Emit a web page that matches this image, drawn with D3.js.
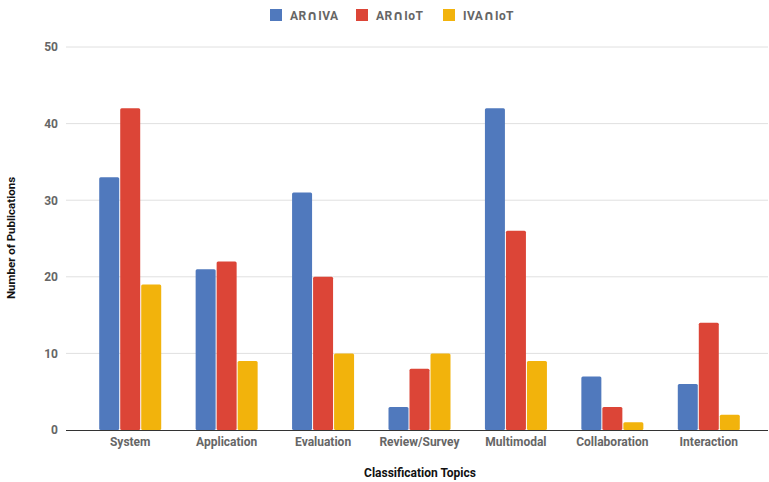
<!DOCTYPE html>
<html><head><meta charset="utf-8">
<script src="https://cdn.jsdelivr.net/npm/d3@7/dist/d3.min.js"></script>
<style>body{margin:0;background:#fff}svg{display:block;font-family:Roboto,"Noto Sans",sans-serif}</style>
</head><body>
<script>
const categories = ["System","Application","Evaluation","Review/Survey","Multimodal","Collaboration","Interaction"];
const seriesNames = ["AR∩IVA","AR∩IoT","IVA∩IoT"];
const arIva = [33,21,31,3,42,7,6];
const arIot = [42,22,20,8,26,3,14];
const ivaIot = [19,9,10,10,9,1,2];
const yTicks = [0,10,20,30,40,50];
const colors = ["#5079bd","#dc4537","#f2b30c"];

const W=769,H=482;
const svg=d3.select("body").append("svg").attr("width",W).attr("height",H);
const x=d3.scaleBand().domain(categories).range([82,757]).paddingInner(0).paddingOuter(0);
const y=d3.scaleLinear().domain([0,50]).range([430,47]);
const series=[arIva,arIot,ivaIot];

svg.append("g").selectAll("line").data(yTicks.filter(d=>d>0)).join("line")
  .attr("x1",66).attr("x2",768).attr("y1",d=>y(d)).attr("y2",d=>y(d))
  .attr("stroke","#e0e0e0").attr("stroke-width",1);

const yAxis=svg.append("g").attr("transform","translate(66,0)")
  .call(d3.axisLeft(y).tickValues(yTicks).tickSize(0).tickPadding(8).tickFormat(d3.format("d")));
yAxis.select(".domain").remove();
yAxis.selectAll("text").attr("fill","#666").attr("font-size",12).attr("font-weight","bold").attr("font-family","Roboto,sans-serif");

const barW=20, gap=1, groupW=barW*3+gap*2;
const g=svg.append("g");
categories.forEach((c,i)=>{
  const cx=x(c)+x.bandwidth()/2;
  series.forEach((s,j)=>{
    const v=s[i];
    g.append("rect").attr("x",cx-groupW/2+j*(barW+gap)).attr("y",y(v))
      .attr("width",barW).attr("height",y(0)-y(v)).attr("rx",1.5)
      .attr("fill",colors[j]);
  });
});
svg.append("line").attr("x1",66).attr("x2",768).attr("y1",y(0)+0.5).attr("y2",y(0)+0.5).attr("stroke","#333").attr("stroke-width",1.2);

const xAxis=svg.append("g").attr("transform","translate(0,430)")
  .call(d3.axisBottom(x).tickSize(0).tickPadding(7));
xAxis.select(".domain").remove();
xAxis.selectAll("text").attr("fill","#666").attr("font-size",12).attr("font-weight","bold").attr("font-family","Roboto,sans-serif");

svg.append("text").attr("x",420).attr("y",477).attr("text-anchor","middle")
  .attr("font-size",12).attr("font-weight","bold").attr("fill","#111").text("Classification Topics");
svg.append("text").attr("transform","translate(15,238) rotate(-90)").attr("text-anchor","middle")
  .attr("font-size",11.5).attr("font-weight","bold").attr("fill","#111").text("Number of Publications");

const legX=[270,356,443];
seriesNames.forEach((n,j)=>{
  svg.append("rect").attr("x",legX[j]).attr("y",9).attr("width",12).attr("height",12).attr("fill",colors[j]);
  const t=svg.append("text").attr("x",legX[j]+20).attr("y",19.5).attr("font-size",12).attr("font-weight","bold")
    .attr("fill","#666").attr("letter-spacing",0.4);
  n.split(/(∩)/).forEach(part=>{
    const ts=t.append("tspan").text(part);
    if(part==="∩") ts.attr("font-family","'DejaVu Sans',sans-serif").attr("font-size",14);
  });
});
</script>
</body></html>
